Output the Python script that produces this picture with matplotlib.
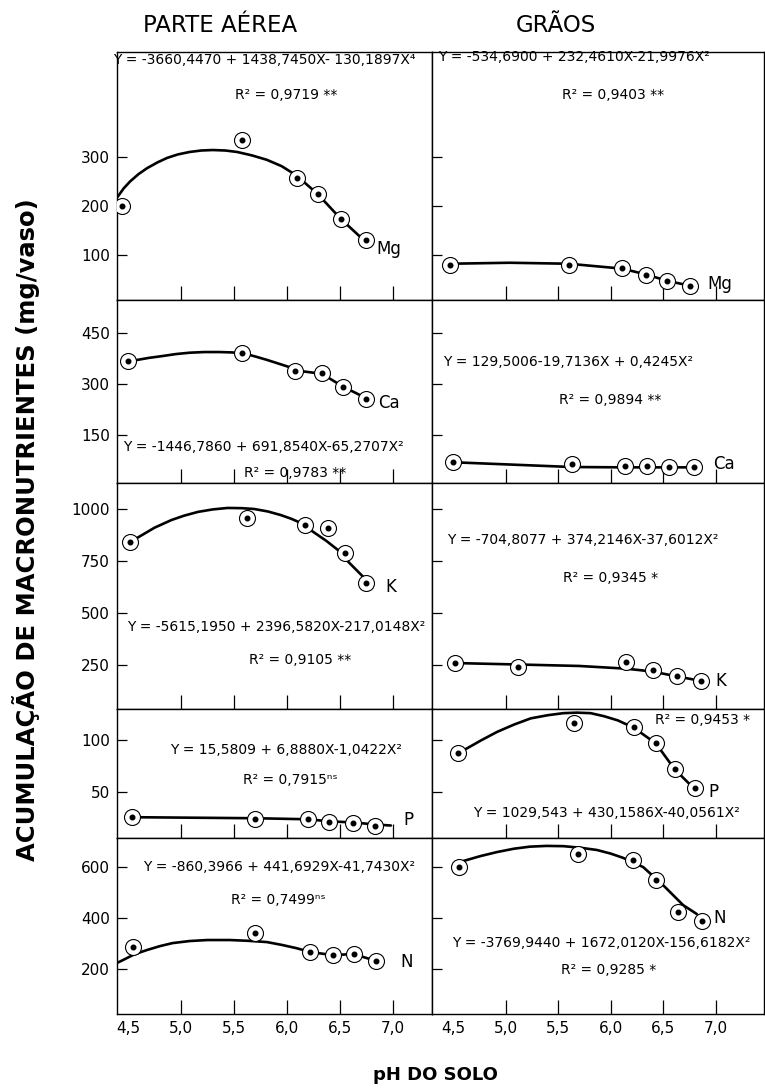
import matplotlib.pyplot as plt

W, H = 765, 1092

# ---- PARTE AEREA (pH, mg/vaso) ----
mg_pa_ph = [4.44, 5.58, 6.09, 6.29, 6.51, 6.75]
mg_pa = [200, 335, 257, 224, 173, 131]
mg_pa_cph = [4.40, 4.46, 4.52, 4.60, 4.68, 4.78, 4.87, 4.97, 5.08, 5.19, 5.30, 5.42, 5.53,
             5.67, 5.81, 5.95, 6.09, 6.29, 6.51, 6.69]
mg_pa_c = [218, 236, 250, 265, 277, 289, 298, 305, 310, 313, 314, 313, 310,
           303, 294, 281, 262, 224, 173, 137]

ca_pa_ph = [4.50, 5.58, 6.08, 6.33, 6.53, 6.75]
ca_pa = [368, 391, 338, 332, 291, 256]
ca_pa_cph = [4.50, 4.59, 4.70, 4.82, 4.95, 5.08, 5.22, 5.36, 5.47, 5.58, 5.70, 5.81, 5.92,
             6.02, 6.08, 6.33, 6.53, 6.75]
ca_pa_c = [368, 371, 377, 382, 388, 392, 394, 394, 393, 391, 381, 371, 360,
           350, 340, 330, 292, 258]

k_pa_ph = [4.52, 5.62, 6.17, 6.39, 6.55, 6.75]
k_pa = [841, 957, 923, 909, 788, 644]
k_pa_cph = [4.52, 4.60, 4.75, 4.91, 5.03, 5.16, 5.30, 5.44, 5.57, 5.69, 5.82, 5.94, 6.04,
            6.13, 6.25, 6.37, 6.48, 6.58, 6.73]
k_pa_c = [841, 865, 910, 947, 968, 986, 998, 1005, 1004, 1000, 988, 971, 953,
          933, 889, 847, 803, 745, 668]

p_pa_ph = [4.54, 5.70, 6.20, 6.40, 6.62, 6.83]
p_pa = [26, 24, 24, 21, 20, 18]
p_pa_cph = [4.54, 5.70, 6.20, 6.40, 6.62, 6.83, 6.98]
p_pa_c = [26, 25, 24, 22, 21, 19, 18]

n_pa_ph = [4.55, 5.70, 6.22, 6.43, 6.63, 6.84]
n_pa = [286, 341, 267, 255, 259, 232]
n_pa_cph = [4.40, 4.45, 4.56, 4.68, 4.80, 4.92, 5.08, 5.25, 5.46, 5.63, 5.81, 5.95, 6.09,
            6.22, 6.43, 6.63, 6.84]
n_pa_c = [225, 235, 258, 275, 290, 302, 310, 314, 314, 311, 306, 295, 282,
          267, 255, 259, 232]

# ---- GRAOS ----
mg_gr_ph = [4.47, 5.60, 6.11, 6.34, 6.54, 6.76]
mg_gr = [80, 80, 73, 60, 47, 37]
mg_gr_cph = [4.47, 5.04, 5.60, 6.11, 6.34, 6.54, 6.76]
mg_gr_c = [82, 84, 82, 72, 60, 47, 37]

ca_gr_ph = [4.50, 5.63, 6.14, 6.35, 6.56, 6.79]
ca_gr = [70, 64, 58, 58, 57, 57]
ca_gr_cph = [4.50, 5.55, 5.63, 6.14, 6.35, 6.56, 6.79]
ca_gr_c = [70, 57, 56, 55, 55, 55, 55]

k_gr_ph = [4.52, 5.12, 6.15, 6.40, 6.63, 6.86]
k_gr = [259, 240, 264, 226, 197, 173]
k_gr_cph = [4.52, 5.12, 5.70, 6.15, 6.40, 6.63, 6.86]
k_gr_c = [259, 252, 245, 232, 218, 195, 173]

p_gr_ph = [4.55, 5.65, 6.22, 6.43, 6.61, 6.80]
p_gr = [88, 117, 113, 97, 72, 54]
p_gr_cph = [4.55, 4.63, 4.77, 4.92, 5.08, 5.24, 5.40, 5.55, 5.68, 5.81, 5.94, 6.07,
             6.22, 6.43, 6.61, 6.78]
p_gr_c = [88, 92, 100, 108, 115, 121, 124, 126, 126.5, 126, 123, 119,
          112, 97, 72, 55]

n_gr_ph = [4.56, 5.69, 6.21, 6.43, 6.64, 6.87]
n_gr = [600, 651, 627, 549, 424, 388]
n_gr_cph = [4.56, 4.60, 4.76, 4.92, 5.08, 5.23, 5.39, 5.55, 5.71, 5.87, 6.00, 6.12,
            6.31, 6.50, 6.69, 6.82]
n_gr_c = [610, 624, 643, 659, 672, 680, 683, 682, 676, 667, 653, 636,
          600, 529, 451, 416]

x_ticks = [4.5, 5.0, 5.5, 6.0, 6.5, 7.0]
x_labels = ['4,5', '5,0', '5,5', '6,0', '6,5', '7,0']

eq_pa = ['Y = -3660,4470 + 1438,7450X- 130,1897X\u2074',
         'Y = -1446,7860 + 691,8540X-65,2707X\u00b2',
         'Y = -5615,1950 + 2396,5820X-217,0148X\u00b2',
         'Y = 15,5809 + 6,8880X-1,0422X\u00b2',
         'Y = -860,3966 + 441,6929X-41,7430X\u00b2']
r2_pa = ['R\u00b2 = 0,9719 **', 'R\u00b2 = 0,9783 **', 'R\u00b2 = 0,9105 **',
         'R\u00b2 = 0,7915\u207f\u02e2', 'R\u00b2 = 0,7499\u207f\u02e2']
eq_gr = ['Y = -534,6900 + 232,4610X-21,9976X\u00b2',
         'Y = 129,5006-19,7136X + 0,4245X\u00b2',
         'Y = -704,8077 + 374,2146X-37,6012X\u00b2',
         'Y = 1029,543 + 430,1586X-40,0561X\u00b2',
         'Y = -3769,9440 + 1672,0120X-156,6182X\u00b2']
r2_gr = ['R\u00b2 = 0,9403 **', 'R\u00b2 = 0,9894 **', 'R\u00b2 = 0,9345 *',
         'R\u00b2 = 0,9453 *', 'R\u00b2 = 0,9285 *']
nutrientes = ['Mg', 'Ca', 'K', 'P', 'N']

# row layout in pixels: top, bottom, ylim, yticks
rows = [
    (52, 300, (8, 514), [100, 200, 300]),
    (300, 483, (9, 547), [150, 300, 450]),
    (483, 709, (38, 1125), [250, 500, 750, 1000]),
    (709, 838, (6, 130), [50, 100]),
    (838, 1014, (24, 714), [200, 400, 600]),
]

# text positions in pixels (eq x,y ; r2 x,y ; label x,y)
pos_pa = [((113, 60), (286, 95), (376, 249)),
          ((123, 447), (295, 473), (378, 403)),
          ((127, 627), (300, 660), (385, 587)),
          ((170, 750), (290, 780), (403, 820)),
          ((143, 867), (278, 900), (400, 962))]
pos_gr = [((438, 57), (613, 95), (707, 284)),
          ((443, 362), (610, 400), (713, 464)),
          ((447, 540), (611, 578), (715, 681)),
          ((473, 813), (703, 720), (708, 792)),
          ((452, 943), (609, 970), (713, 918))]

series_pa = [(mg_pa_ph, mg_pa, mg_pa_cph, mg_pa_c), (ca_pa_ph, ca_pa, ca_pa_cph, ca_pa_c),
             (k_pa_ph, k_pa, k_pa_cph, k_pa_c), (p_pa_ph, p_pa, p_pa_cph, p_pa_c),
             (n_pa_ph, n_pa, n_pa_cph, n_pa_c)]
series_gr = [(mg_gr_ph, mg_gr, mg_gr_cph, mg_gr_c), (ca_gr_ph, ca_gr, ca_gr_cph, ca_gr_c),
             (k_gr_ph, k_gr, k_gr_cph, k_gr_c), (p_gr_ph, p_gr, p_gr_cph, p_gr_c),
             (n_gr_ph, n_gr, n_gr_cph, n_gr_c)]

fig = plt.figure(figsize=(W / 100, H / 100), dpi=100)


def fx(x, y):
    return x / W, 1 - y / H


def panel(left, right, row, xlim, data, show_y, show_x):
    top, bottom, ylim, yticks = row
    ax = fig.add_axes([left / W, 1 - bottom / H, (right - left) / W, (bottom - top) / H])
    ph, vals, cph, cvals = data
    ax.plot(cph, cvals, color='black', lw=1.9, zorder=2,
            solid_capstyle='round', solid_joinstyle='round')
    ax.plot(ph, vals, 'o', ms=11.5, mfc='white', mec='black', mew=0.8, zorder=3)
    ax.plot(ph, vals, 'o', ms=3.3, color='black', zorder=4)
    ax.set_xlim(xlim)
    ax.set_ylim(ylim)
    ax.set_xticks(x_ticks)
    ax.set_yticks(yticks)
    ax.tick_params(direction='in', length=7, width=0.9, labelsize=11, pad=5)
    ax.tick_params(axis='x', length=10)
    ax.xaxis.get_major_ticks()[0].tick1line.set_visible(False)
    if show_x:
        ax.set_xticklabels(x_labels)
    else:
        ax.set_xticklabels([])
    if show_y:
        ax.set_yticklabels([str(v) for v in yticks])
    else:
        ax.set_yticklabels([])
    for s in ax.spines.values():
        s.set_linewidth(1.0)
    return ax


for i, row in enumerate(rows):
    last = i == len(rows) - 1
    panel(117, 432, row, (4.396, 7.368), series_pa[i], True, last)
    panel(432, 764, row, (4.30, 7.46), series_gr[i], False, last)

    (ex, ey), (rx, ry), (lx, ly) = pos_pa[i]
    fig.text(*fx(ex, ey), eq_pa[i], fontsize=10, ha='left', va='center')
    fig.text(*fx(rx, ry), r2_pa[i], fontsize=10, ha='center', va='center')
    fig.text(*fx(lx, ly), nutrientes[i], fontsize=12, ha='left', va='center')

    (ex, ey), (rx, ry), (lx, ly) = pos_gr[i]
    fig.text(*fx(ex, ey), eq_gr[i], fontsize=10, ha='left', va='center')
    fig.text(*fx(rx, ry), r2_gr[i], fontsize=10, ha='center', va='center')
    fig.text(*fx(lx, ly), nutrientes[i], fontsize=12, ha='left', va='center')

fig.text(*fx(220, 25), 'PARTE AÉREA', fontsize=16.5, ha='center', va='center')
fig.text(*fx(556, 25), 'GRÃOS', fontsize=16.5, ha='center', va='center')
fig.text(*fx(26, 530), 'ACUMULAÇÃO DE MACRONUTRIENTES (mg/vaso)', fontsize=17.5,
         fontweight='bold', rotation=90, ha='center', va='center')
fig.text(*fx(435, 1075), 'pH DO SOLO', fontsize=13, fontweight='bold',
         ha='center', va='center')

plt.savefig('out.png', dpi=100)
plt.close()
